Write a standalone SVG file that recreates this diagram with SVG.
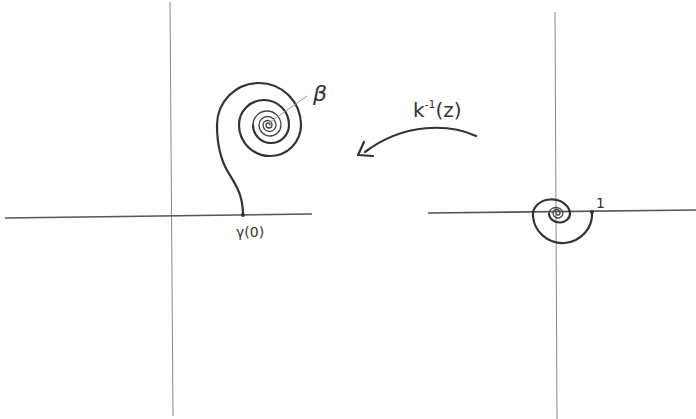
<svg xmlns="http://www.w3.org/2000/svg" width="696" height="419" viewBox="0 0 696 419">
<style>
.axis{stroke:#8a8a8a;stroke-width:1;fill:none}
.haxis{stroke:#555;stroke-width:1.6;fill:none}
.curve{stroke:#333;stroke-width:2.2;fill:none;stroke-linecap:round;stroke-linejoin:round}
.thin{stroke:#444;stroke-width:1.3;fill:none;stroke-linecap:round}
.lbl{font-family:"DejaVu Sans","Liberation Sans",sans-serif;fill:#333}
</style>
<rect width="696" height="419" fill="#fff"/>
<g id="left-axes">
<line class="axis" x1="170" y1="2" x2="173" y2="416"/>
<line class="haxis" x1="5" y1="218" x2="312" y2="214"/>
</g>
<g id="right-axes">
<line class="axis" x1="555" y1="12" x2="557" y2="419"/>
<line class="haxis" x1="428" y1="213" x2="696" y2="210"/>
</g>
<g id="left-spiral">
<path class="curve" d="M243,215 C243,195 236,185 228,172 C219,157 217,140 217,125 A42,42 0 0 1 301,125 A31,31 0 0 1 239,125 A25,25 0 0 1 289,125 A18,18 0 0 1 253,125"/>
<path class="thin" d="M253,125 A14,14 0 0 1 281,125 A11,11 0 0 1 259,125 A8.5,8.5 0 0 1 276,125 A6.5,6.5 0 0 1 263,125 A4.5,4.5 0 0 1 272,125 A3,3 0 0 1 266,125 A2,2 0 0 1 270,125"/>
<circle cx="243" cy="215" r="2" fill="#333"/>
<line x1="270" y1="122" x2="307" y2="96" stroke="#999" stroke-width="1"/>
<text class="lbl" x="313" y="101" font-size="22" font-style="italic">β</text>
<text class="lbl" x="236" y="237" font-size="14">γ(0)</text>
</g>
<g id="right-spiral">
<path class="curve" d="M592,212 A29.5,29 0 0 1 533,216 A18.5,15 0 0 1 570,213 A10.5,9 0 0 1 549,214"/>
<path class="thin" d="M549,214 A7,6 0 0 1 563,213 A5,5 0 0 1 553,213 A3.5,3.5 0 0 1 560,213 A2,2 0 0 1 556,213"/>
<circle cx="592" cy="212" r="2" fill="#333"/>
<text class="lbl" x="596" y="208" font-size="14">1</text>
</g>
<g id="connectors">
<path class="curve" d="M476,136 C450,124 405,122 365,152"/>
<path class="curve" d="M364,142 L358,155 L373,156"/>
<text class="lbl" x="413" y="117" font-size="20">k<tspan font-size="11" dy="-9">-1</tspan><tspan dy="9">(z)</tspan></text>
</g>
</svg>
